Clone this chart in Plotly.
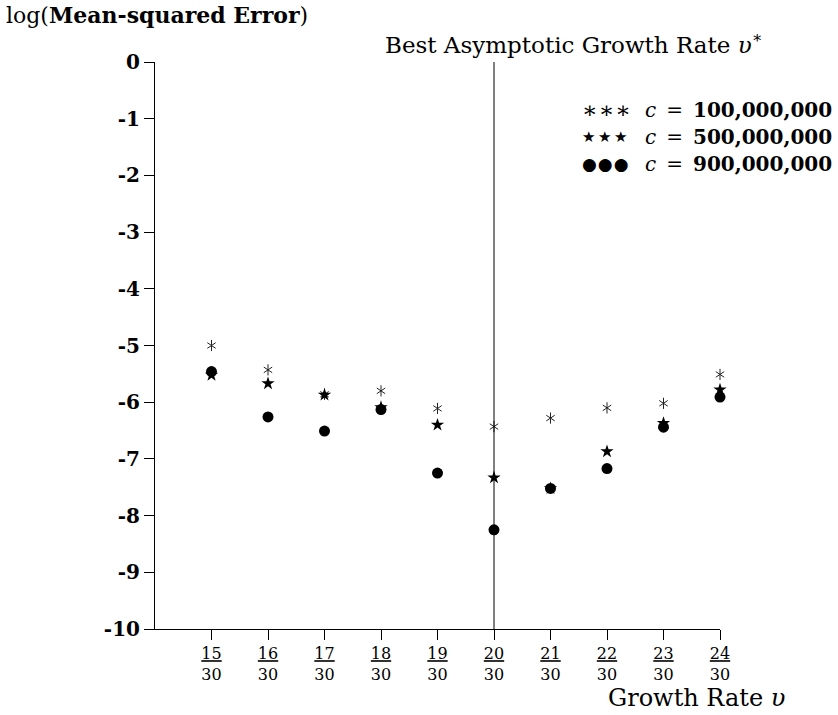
import plotly.graph_objects as go

# ---- data ----
numerators = [15, 16, 17, 18, 19, 20, 21, 22, 23, 24]
tick_labels = [f"<u>{n}</u><br>30" for n in numerators]
mse_c100m = [-5.00, -5.43, -5.86, -5.80, -6.11, -6.43, -6.28, -6.10, -6.02, -5.51]
mse_c500m = [-5.52, -5.67, -5.87, -6.09, -6.40, -7.33, -7.52, -6.87, -6.37, -5.78]
mse_c900m = [-5.46, -6.26, -6.51, -6.13, -7.25, -8.25, -7.52, -7.17, -6.44, -5.91]
y_ticks = [0, -1, -2, -3, -4, -5, -6, -7, -8, -9, -10]
best_rate = 20
legend_symbols = [
    '<span style="font-size:23px;letter-spacing:1px">∗∗∗</span>',
    '<span style="font-size:15px;letter-spacing:3px">★★★</span>',
    '<span style="font-size:17px;letter-spacing:1px">●●●</span>',
]
legend_values = ["100,000,000", "500,000,000", "900,000,000"]

FONT = "DejaVu Serif"
W, H = 838, 715
L, R, T, B = 155, 118, 62, 86
PW, PH = W - L - R, H - T - B


def px_x(p):
    return (p - L) / PW


def px_y(p):
    return (H - B - p) / PH


fig = go.Figure()

# asterisks: two overlaid Y symbols make a six-armed asterisk
for sym in ["y-up-open", "y-down-open"]:
    fig.add_trace(go.Scatter(
        x=numerators, y=mse_c100m, mode="markers", cliponaxis=False,
        marker=dict(symbol=sym, size=7, color="#222222", line=dict(color="#222222", width=1)),
        showlegend=False, hoverinfo="skip"))

fig.add_trace(go.Scatter(
    x=numerators, y=mse_c500m, mode="markers", cliponaxis=False,
    marker=dict(symbol="star", size=10, color="black", line=dict(width=0)),
    showlegend=False))

fig.add_trace(go.Scatter(
    x=numerators, y=mse_c900m, mode="markers", cliponaxis=False,
    marker=dict(symbol="circle", size=11, color="black", line=dict(width=0)),
    showlegend=False))

# best asymptotic growth rate line
fig.add_shape(type="line", xref="x", yref="y", x0=best_rate, x1=best_rate,
              y0=0, y1=-10, line=dict(color="black", width=1))

annotations = [
    dict(text="log(<b>Mean-squared Error</b>)", xref="paper", yref="paper",
         x=px_x(4), y=px_y(15), xanchor="left", yanchor="middle",
         showarrow=False, font=dict(family=FONT, size=22, color="black")),
    dict(text="Best Asymptotic Growth Rate <i>υ</i><sup>∗</sup>", xref="paper", yref="paper",
         x=px_x(383), y=px_y(43), xanchor="left", yanchor="middle",
         showarrow=False, font=dict(family=FONT, size=23, color="black")),
    dict(text="Growth Rate <i>υ</i>", xref="paper", yref="paper",
         x=px_x(787), y=px_y(698), xanchor="right", yanchor="middle",
         showarrow=False, font=dict(family=FONT, size=24, color="black")),
]
for i, (sym, val) in enumerate(zip(legend_symbols, legend_values)):
    ypos = px_y(110 + 27 * i)
    annotations.append(dict(
        text=sym, xref="paper", yref="paper",
        x=px_x(580), y=ypos, xanchor="left", yanchor="middle",
        showarrow=False, font=dict(family=FONT, size=20, color="black")))
    annotations.append(dict(
        text=f"<i>c</i>\u2002=\u2002<b>{val}</b>", xref="paper", yref="paper",
        x=px_x(834), y=ypos, xanchor="right", yanchor="middle",
        showarrow=False, font=dict(family=FONT, size=20, color="black")))

fig.update_layout(
    width=W, height=H,
    margin=dict(l=L, r=R, t=T, b=B),
    paper_bgcolor="white", plot_bgcolor="white",
    annotations=annotations,
    xaxis=dict(range=[14, 24], tickmode="array", tickvals=numerators, ticktext=tick_labels,
               showgrid=False, zeroline=False, showline=True, linecolor="black", linewidth=1,
               ticks="outside", ticklen=10, tickcolor="black",
               tickfont=dict(family=FONT, size=16, color="black")),
    yaxis=dict(range=[-10, 0], tickmode="array", tickvals=y_ticks,
               ticktext=[str(v) for v in y_ticks],
               showgrid=False, zeroline=False, showline=True, linecolor="black", linewidth=1,
               ticks="outside", ticklen=10, tickcolor="black",
               tickfont=dict(family=FONT, size=20, color="black", weight="bold")),
)

fig.write_html("out.html", config={"displayModeBar": False},
               post_script="document.body.style.margin='0';")
